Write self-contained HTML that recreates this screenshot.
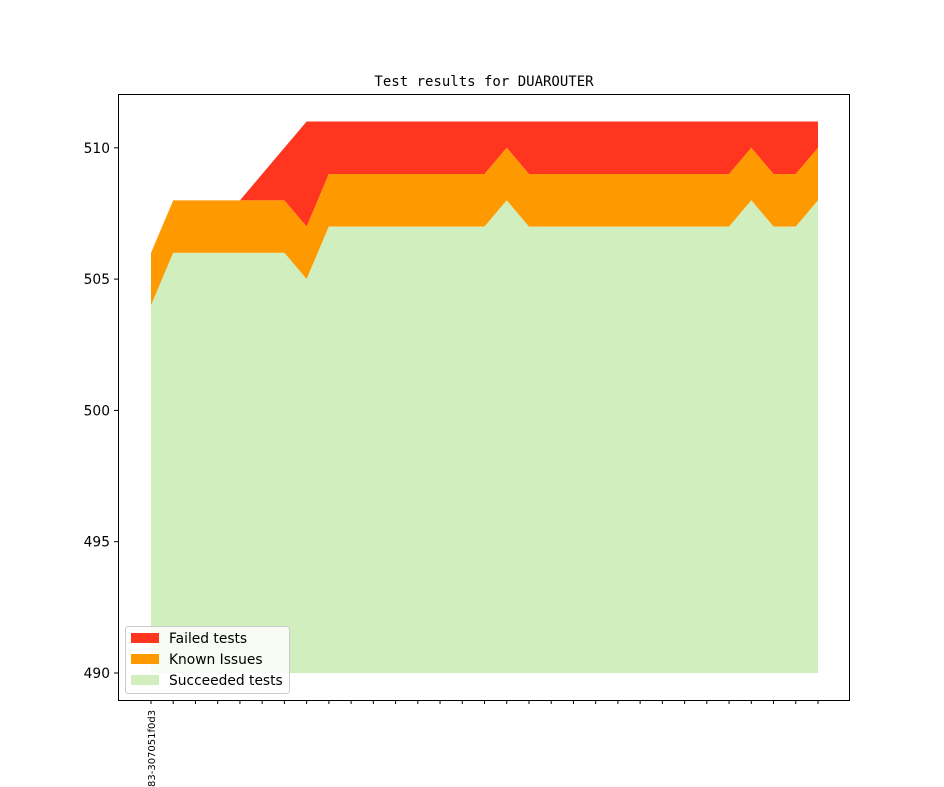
<!DOCTYPE html>
<html><head><meta charset="utf-8"><style>body{margin:0;background:#fff}svg{display:block}text{font-family:"DejaVu Sans","Liberation Sans",sans-serif}</style></head>
<body>
<svg id="s" width="944" height="787" xmlns="http://www.w3.org/2000/svg">
<rect width="944" height="787" fill="#fff"/>
<g id="areas" transform="translate(151,673) scale(22.2333,-26.26)"></g>
<rect x="118.5" y="94.5" width="731" height="606" fill="none" stroke="#000" stroke-width="1"/>
<text x="484" y="86" text-anchor="middle" font-size="14" style="font-family:'DejaVu Sans Mono','Liberation Mono',monospace">Test results for DUAROUTER</text>
<g id="yt" font-size="13.8" text-anchor="end"></g>
<g id="xt"></g>
<text transform="translate(155,787) rotate(-90)" font-size="10">83-307051f0d3</text>
<g>
<rect x="125.5" y="626.5" width="164" height="67" rx="3" fill="#fff" fill-opacity="0.8" stroke="#ccc"/>
<rect x="131" y="633" width="28" height="10" fill="#ff3520"/>
<rect x="131" y="654" width="28" height="10" fill="#ff9900"/>
<rect x="131" y="675" width="28" height="10" fill="#d0eebe"/>
<text x="169" y="643" font-size="13.8">Failed tests</text>
<text x="169" y="664" font-size="13.8">Known Issues</text>
<text x="169" y="685" font-size="13.8">Succeeded tests</text>
</g>
</svg>
<script>
var s=[14,16,16,16,16,16,16,15,17,17,17,17,17,17,17,17,18,17,17,17,17,17,17,17,17,17,17,18,17,17,18];
var k=s.map(v=>v+2);
var t=[16,18,18,18,18,19,20];while(t.length<31)t.push(21);
function poly(top,bot,c){var p=[];top.forEach((v,i)=>p.push(i+","+v));for(var i=30;i>=0;i--)p.push(i+","+bot[i]);
return '<polygon points="'+p.join(" ")+'" fill="'+c+'"/>';}
var z=s.map(()=>0);
document.getElementById("areas").innerHTML=poly(t,k,"#ff3520")+poly(k,s,"#ff9900")+poly(s,z,"#d0eebe");
var yt="";[490,495,500,505,510].forEach(v=>{var y=673-(v-490)*26.26;yt+='<line x1="114" x2="118" y1="'+y+'" y2="'+y+'" stroke="#000"/><text x="110" y="'+(y+5)+'">'+v+'</text>';});
document.getElementById("yt").innerHTML=yt;
var xt="";for(var i=0;i<31;i++){var x=151+i*22.2333;xt+='<line x1="'+x+'" x2="'+x+'" y1="700" y2="704" stroke="#000"/>';}
document.getElementById("xt").innerHTML=xt;
</script>
</body></html>
